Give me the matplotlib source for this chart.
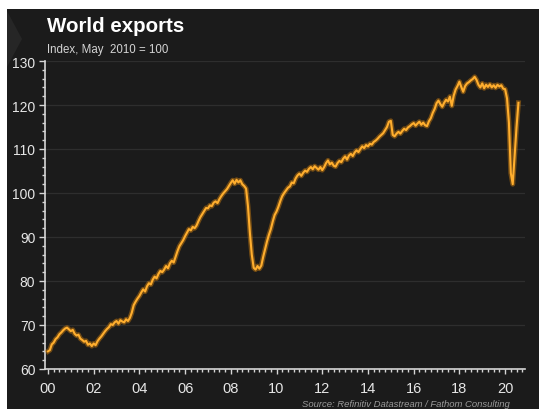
import matplotlib
matplotlib.use("Agg")
import matplotlib.pyplot as plt
import numpy as np
from matplotlib.patches import Rectangle, Polygon
from matplotlib.ticker import MultipleLocator, FixedLocator

plt.rcParams['font.family'] = ['Liberation Sans', 'DejaVu Sans']

# monthly index values, Jan 2000 - Aug 2020 (May 2010 = 100)
start_year = 2000
exports = [
    # 2000
    64.0, 64.3, 65.6, 66.0, 66.8, 67.2, 67.9, 68.3, 68.8, 69.2, 69.4, 69.0,
    # 2001
    68.6, 68.9, 68.0, 67.6, 67.8, 66.9, 66.6, 66.2, 66.4, 65.5, 65.8, 65.2,
    # 2002
    65.8, 65.4, 66.3, 66.9, 67.4, 68.0, 68.6, 69.1, 69.5, 70.2, 70.0, 70.6,
    # 2003
    70.9, 70.3, 71.1, 70.8, 70.6, 71.3, 70.9, 71.6, 72.8, 74.5, 75.3, 76.0,
    # 2004
    76.6, 77.4, 78.1, 77.6, 78.8, 79.5, 79.2, 80.3, 81.0, 80.6, 81.6, 82.3,
    # 2005
    82.0, 82.6, 83.4, 82.9, 84.0, 84.6, 84.2, 85.5, 86.8, 87.9, 88.6, 89.3,
    # 2006
    90.2, 91.0, 91.8, 91.5, 92.3, 92.0, 92.6, 93.6, 94.5, 95.2, 95.9, 96.6,
    # 2007
    96.5, 97.2, 97.0, 97.8, 98.1, 97.7, 98.6, 99.3, 99.9, 100.4, 100.9, 101.6,
    # 2008
    102.3, 102.9, 102.1, 103.0, 102.4, 102.9, 102.0, 101.6, 101.0, 97.0, 91.0, 86.0,
    # 2009
    83.0, 82.6, 83.4, 82.8, 83.5, 85.5, 87.3, 89.0, 90.5, 91.8, 93.5, 95.0,
    # 2010
    95.8, 96.9, 98.2, 99.3, 100.0, 100.6, 101.2, 101.5, 102.4, 102.2, 103.3, 104.0,
    # 2011
    104.4, 103.9, 104.6, 105.1, 104.8, 105.5, 105.9, 105.4, 106.1, 105.7, 105.3, 105.9,
    # 2012
    105.2, 105.9, 106.8, 107.4, 106.5, 106.9, 106.2, 106.0, 106.8, 107.3, 107.0, 107.8,
    # 2013
    108.3, 107.6, 108.5, 108.9, 108.4, 109.2, 109.7, 109.3, 110.0, 110.6, 110.2, 110.9,
    # 2014
    110.6, 111.2, 111.0, 111.6, 111.9, 112.3, 112.8, 113.2, 113.6, 114.3, 115.0, 116.2,
    # 2015
    116.4, 113.2, 112.9, 113.5, 113.9, 113.5, 114.1, 114.6, 114.3, 114.9, 115.2, 115.6,
    # 2016
    115.9, 115.3, 115.8, 116.2, 115.5, 116.0, 115.4, 115.2, 116.3, 117.0, 118.2, 119.1,
    # 2017
    120.4, 121.0, 120.2, 119.6, 120.5, 121.2, 120.8, 121.9, 119.8, 122.1, 123.5, 124.3,
    # 2018
    125.3, 124.1, 123.0, 124.3, 124.9, 125.2, 125.6, 125.9, 126.4, 125.7, 124.6, 124.0,
    # 2019
    124.9, 123.8, 124.6, 124.1, 124.7, 124.0, 124.5, 123.9, 124.6, 124.2, 124.5, 123.7,
    # 2020
    123.6, 121.5, 116.0, 104.5, 102.0, 108.5, 115.0, 120.5,
]
year_ticks = list(range(2000, 2021, 2))
year_labels = ["%02d" % (y % 100) for y in year_ticks]

t = start_year + np.arange(len(exports)) / 12.0

BG = '#1b1b1b'
AXIS = '#d6d6d6'

fig = plt.figure(figsize=(5.39, 4.10), dpi=100, facecolor='white')
# dark panel, leaving a thin white margin top and left
fig.patches.append(Rectangle((7 / 539, 0), 1, 1 - 10 / 410, transform=fig.transFigure,
                             facecolor=BG, edgecolor='none', zorder=-2))
fig.patches.append(Polygon([(7 / 539, 1 - 12 / 410), (22 / 539, 1 - 40 / 410), (7 / 539, 1 - 68 / 410)],
                           closed=True, transform=fig.transFigure,
                           facecolor='#262626', edgecolor='none', zorder=-1))

ax = fig.add_axes([45 / 539, 40 / 410, 480 / 539, 308 / 410])
ax.set_facecolor('none')

# glow under the line, then the line itself
ax.plot(t, exports, color='#d9840c', lw=3.6, alpha=0.45, solid_joinstyle='round', zorder=3)
ax.plot(t, exports, color='#ffae2e', lw=1.5, solid_joinstyle='round', zorder=4)

ax.set_xlim(1999.87, 2020.87)
ax.set_ylim(60, 130)

ax.yaxis.set_major_locator(MultipleLocator(10))
ax.yaxis.set_minor_locator(MultipleLocator(2))
ax.xaxis.set_major_locator(FixedLocator(year_ticks))
ax.xaxis.set_minor_locator(MultipleLocator(0.25))
ax.set_xticklabels(year_labels)

ax.grid(axis='y', which='major', color='#2e2e2e', lw=0.9)
ax.set_axisbelow(True)

for side in ['top', 'right']:
    ax.spines[side].set_visible(False)
for side in ['left', 'bottom']:
    ax.spines[side].set_color(AXIS)
    ax.spines[side].set_linewidth(1.2)

ax.tick_params(axis='y', which='major', length=4, width=1, color=AXIS,
               labelcolor='#e6e6e6', labelsize=10, pad=3)
ax.tick_params(axis='y', which='minor', length=2.5, width=1, color=AXIS)
ax.tick_params(axis='x', which='major', length=3.5, width=1, color=AXIS,
               labelcolor='#e6e6e6', labelsize=10.5, pad=5)
ax.tick_params(axis='x', which='minor', length=2.5, width=1, color=AXIS)

fig.text(47 / 539, 1 - 32 / 410, 'World exports', color='white',
         fontsize=14.8, fontweight='bold', va='baseline', ha='left')
fig.text(47 / 539, 1 - 53 / 410, 'Index, May  2010 = 100', color='#d4d4d4',
         fontsize=8.3, va='baseline', ha='left')
fig.text(510 / 539, 1 - 407 / 410, 'Source: Refinitiv Datastream / Fathom Consulting',
         color='#9a9a9a', fontsize=6.8, style='italic', va='baseline', ha='right')

fig.savefig('out.png', dpi=100, facecolor=fig.get_facecolor())
